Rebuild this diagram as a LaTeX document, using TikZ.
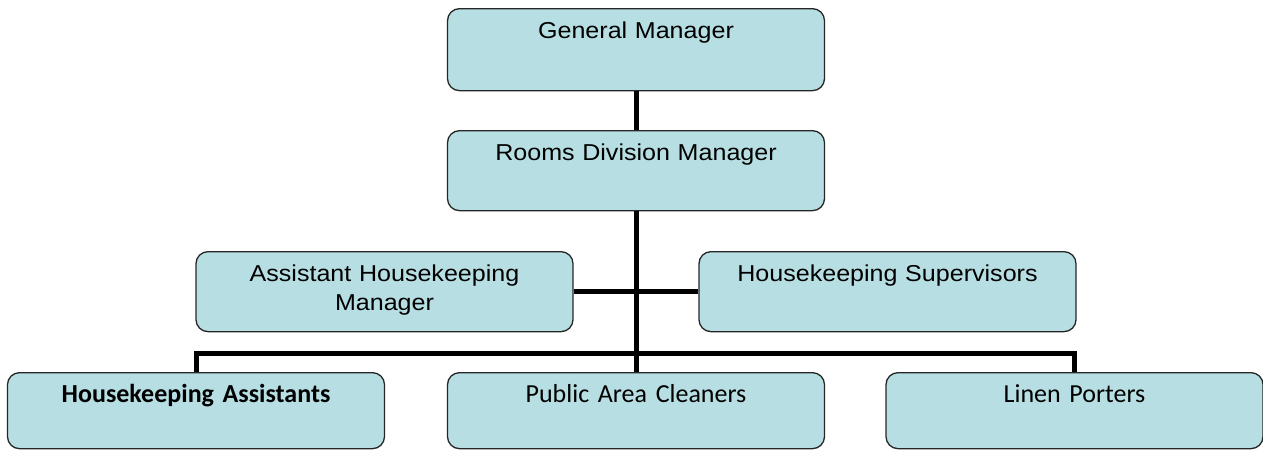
\documentclass[tikz,border=0pt]{standalone}
\usepackage{fontspec}
\setmainfont{Liberation Sans}[FakeStretch=1.09]
\newfontfamily\calibrifont{Carlito}
\definecolor{boxblue}{RGB}{183,223,227}
\begin{document}
\begin{tikzpicture}[x=1pt, y=-1pt,
  every node/.style = {shape=rectangle, rounded corners=12pt, draw=black!85,
    line width=1.3pt, fill=boxblue, anchor=north, align=center,
    text width=369pt, inner xsep=4pt, inner ysep=0pt, text height=30pt},
  upper/.style = {font=\fontsize{23}{29}\selectfont, text depth=50pt},
  lower/.style = {font=\calibrifont\fontsize{26}{31}\selectfont, text depth=46pt},
  link/.style = {line width=5pt}
  ]
  \useasboundingbox (0,0) rectangle (1263,450);
  % boxes
  \node[upper, text depth=52pt] (gm) at (636,8) {General Manager};
  \node[upper] (rdm) at (636,130) {Rooms Division Manager};
  \node[upper] (ahm) at (384.5,251) {Assistant Housekeeping\\Manager};
  \node[upper] (hs) at (887.5,251) {Housekeeping Supervisors};
  \node[lower] (ha) at (196,372) {\textbf{Housekeeping Assistants}};
  \node[lower] (pac) at (636,372) {Public Area Cleaners};
  \node[lower] (lp) at (1074.5,372) {Linen Porters};
  % links
  \coordinate (bus) at (636,353);
  \draw[link] (gm) -- (rdm);
  \draw[link] (rdm.south) -- (pac.north);
  \draw[link] (ahm.east) -- (hs.west);
  \draw[link] (ha.north) |- (bus) -| (lp.north);
\end{tikzpicture}
\end{document}
